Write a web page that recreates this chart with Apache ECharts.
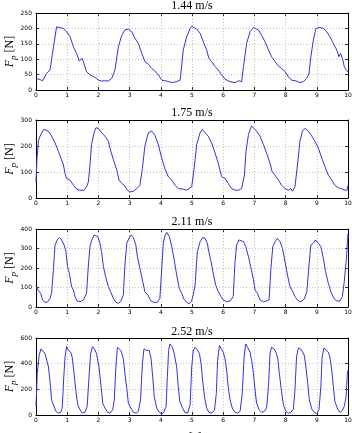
<!DOCTYPE html>
<html>
<head>
<meta charset="utf-8">
<script src="https://cdn.jsdelivr.net/npm/echarts@6/dist/echarts.min.js"></script>
<style>
  html, body { margin: 0; padding: 0; background: #fff; }
  #chart { width: 352px; height: 433px; }
</style>
</head>
<body>
<div id="chart"></div>
<script>
// speeds shown as panel titles
const speeds = ['1.44 m/s', '1.75 m/s', '2.11 m/s', '2.52 m/s'];
const yMax = [250, 300, 400, 600];
const yStep = [50, 100, 100, 200];
const xTicks = [0, 1, 2, 3, 4, 5, 6, 7, 8, 9, 10];

// [t (s), Fp (N)]
const force144 = [
  [0, 36], [0.1, 35], [0.21, 30], [0.34, 54], [0.45, 65], [0.56, 140], [0.66, 205], [0.69, 208],
  [0.88, 200], [0.98, 189], [1.09, 173], [1.2, 140], [1.3, 119], [1.39, 94], [1.48, 103], [1.55, 81],
  [1.62, 60], [1.73, 49], [1.89, 41], [2.0, 32], [2.1, 29], [2.2, 30], [2.32, 29], [2.43, 38],
  [2.53, 65], [2.64, 140], [2.75, 178], [2.85, 195], [2.96, 198], [3.07, 189], [3.17, 168], [3.28, 151],
  [3.39, 119], [3.49, 92], [3.6, 84], [3.71, 70], [3.81, 62], [3.92, 49], [4.03, 32], [4.19, 29],
  [4.35, 24], [4.4, 19], [4.51, 27], [4.62, 32], [4.72, 130], [4.83, 173], [4.94, 200], [4.99, 207],
  [5.15, 198], [5.26, 184], [5.36, 157], [5.47, 130], [5.54, 103], [5.63, 92], [5.74, 76], [5.84, 65],
  [5.95, 49], [6.06, 35], [6.22, 27], [6.38, 24], [6.49, 30], [6.59, 27], [6.65, 76], [6.75, 151],
  [6.86, 189], [6.97, 203], [7.13, 195], [7.23, 178], [7.34, 157], [7.45, 130], [7.55, 108], [7.66, 92],
  [7.77, 78], [7.87, 70], [7.98, 60], [8.09, 43], [8.19, 32], [8.35, 29], [8.46, 24], [8.57, 27],
  [8.68, 38], [8.75, 54], [8.81, 108], [8.89, 162], [8.97, 200], [9.1, 203], [9.21, 200], [9.32, 189],
  [9.42, 173], [9.53, 151], [9.64, 130], [9.71, 108], [9.76, 119], [9.82, 103], [9.88, 76], [9.95, 63],
  [10, 60]
];

const force175 = [
  [0, 60], [0.03, 150], [0.08, 220], [0.13, 238], [0.24, 264], [0.29, 266], [0.4, 257], [0.5, 238],
  [0.61, 212], [0.72, 179], [0.82, 147], [0.88, 127], [0.93, 95], [0.98, 75], [1.09, 69], [1.2, 49],
  [1.3, 34], [1.41, 30], [1.46, 36], [1.54, 30], [1.62, 43], [1.68, 62], [1.73, 127], [1.78, 205],
  [1.86, 251], [1.92, 270], [2.0, 268], [2.1, 251], [2.21, 238], [2.32, 218], [2.37, 192], [2.48, 147],
  [2.59, 108], [2.66, 69], [2.75, 56], [2.83, 49], [2.93, 30], [3.01, 23], [3.12, 26], [3.23, 36],
  [3.33, 49], [3.41, 114], [3.49, 199], [3.6, 251], [3.71, 257], [3.81, 242], [3.92, 205], [4.03, 153],
  [4.13, 114], [4.24, 82], [4.35, 69], [4.46, 49], [4.56, 36], [4.72, 34], [4.83, 30], [4.88, 26],
  [4.99, 43], [5.07, 114], [5.15, 205], [5.26, 251], [5.33, 264], [5.42, 251], [5.52, 238], [5.63, 212],
  [5.74, 173], [5.84, 134], [5.95, 82], [6.06, 75], [6.16, 56], [6.27, 36], [6.38, 30], [6.49, 30],
  [6.59, 36], [6.68, 88], [6.73, 179], [6.81, 244], [6.91, 277], [6.97, 280], [7.07, 257], [7.18, 238],
  [7.29, 205], [7.39, 173], [7.5, 134], [7.57, 101], [7.66, 88], [7.77, 69], [7.87, 49], [7.98, 36],
  [8.09, 30], [8.17, 36], [8.22, 26], [8.3, 43], [8.38, 127], [8.46, 218], [8.54, 257], [8.62, 268],
  [8.73, 257], [8.84, 238], [8.94, 218], [9.05, 192], [9.16, 153], [9.26, 121], [9.37, 88], [9.48, 69],
  [9.58, 49], [9.69, 39], [9.79, 36], [9.9, 30], [9.97, 30], [10, 49]
];

const force211 = [
  [0, 104], [0.07, 87], [0.15, 70], [0.21, 36], [0.29, 24], [0.36, 24], [0.45, 44], [0.5, 70],
  [0.56, 198], [0.61, 318], [0.68, 344], [0.75, 356], [0.82, 344], [0.9, 318], [0.96, 284], [1.01, 207],
  [1.07, 173], [1.14, 104], [1.2, 87], [1.25, 53], [1.32, 31], [1.41, 27], [1.52, 36], [1.62, 70],
  [1.68, 215], [1.73, 310], [1.78, 339], [1.86, 369], [1.91, 378], [1.98, 361], [2.05, 327], [2.1, 284],
  [2.16, 207], [2.23, 156], [2.32, 104], [2.39, 79], [2.48, 44], [2.56, 24], [2.64, 19], [2.71, 27],
  [2.8, 62], [2.85, 215], [2.91, 327], [2.98, 352], [3.04, 369], [3.12, 356], [3.2, 318], [3.25, 258],
  [3.33, 198], [3.42, 130], [3.49, 79], [3.6, 58], [3.68, 31], [3.78, 24], [3.89, 24], [3.97, 44],
  [4.03, 198], [4.08, 327], [4.14, 369], [4.19, 383], [4.27, 361], [4.34, 318], [4.42, 250], [4.51, 164],
  [4.59, 96], [4.67, 70], [4.74, 41], [4.83, 24], [4.91, 17], [4.98, 27], [5.04, 62], [5.1, 113],
  [5.17, 284], [5.26, 335], [5.34, 356], [5.42, 352], [5.49, 327], [5.54, 284], [5.61, 233], [5.68, 173],
  [5.76, 113], [5.84, 79], [5.93, 53], [6.0, 36], [6.11, 27], [6.22, 31], [6.32, 53], [6.38, 233],
  [6.43, 318], [6.51, 344], [6.57, 352], [6.65, 335], [6.72, 310], [6.81, 258], [6.88, 207], [6.97, 139],
  [7.02, 87], [7.1, 70], [7.18, 36], [7.29, 27], [7.39, 31], [7.47, 36], [7.53, 198], [7.59, 310],
  [7.66, 335], [7.74, 352], [7.82, 335], [7.9, 301], [7.98, 233], [8.06, 164], [8.14, 104], [8.22, 82],
  [8.3, 53], [8.41, 31], [8.49, 27], [8.6, 41], [8.68, 79], [8.75, 215], [8.81, 318], [8.89, 327],
  [8.96, 344], [9.05, 327], [9.13, 310], [9.21, 250], [9.28, 181], [9.37, 121], [9.45, 79], [9.55, 44],
  [9.64, 31], [9.74, 31], [9.82, 53], [9.88, 130], [9.95, 250], [10, 378]
];

const force252 = [
  [0, 67], [0.04, 323], [0.1, 464], [0.16, 515], [0.21, 503], [0.29, 477], [0.34, 464], [0.4, 374],
  [0.45, 259], [0.5, 118], [0.56, 79], [0.64, 28], [0.72, 15], [0.79, 21], [0.84, 54], [0.89, 297],
  [0.93, 451], [0.98, 533], [1.04, 503], [1.11, 490], [1.16, 451], [1.22, 323], [1.28, 182], [1.34, 79],
  [1.41, 41], [1.48, 15], [1.57, 21], [1.64, 67], [1.7, 297], [1.75, 477], [1.81, 533], [1.89, 508],
  [1.94, 477], [2.02, 374], [2.08, 233], [2.14, 92], [2.21, 54], [2.29, 21], [2.37, 15], [2.46, 41],
  [2.51, 118], [2.56, 374], [2.61, 528], [2.67, 515], [2.72, 503], [2.8, 438], [2.85, 323], [2.91, 208],
  [2.96, 92], [3.04, 54], [3.12, 21], [3.21, 15], [3.28, 28], [3.35, 118], [3.41, 400], [3.46, 515],
  [3.55, 503], [3.63, 503], [3.69, 438], [3.74, 297], [3.79, 144], [3.87, 54], [3.95, 21], [4.03, 10],
  [4.1, 21], [4.17, 67], [4.21, 297], [4.25, 503], [4.29, 554], [4.37, 528], [4.43, 477], [4.51, 374],
  [4.56, 220], [4.61, 105], [4.7, 54], [4.77, 21], [4.86, 15], [4.94, 79], [4.99, 374], [5.04, 503],
  [5.1, 528], [5.17, 508], [5.24, 477], [5.29, 400], [5.34, 272], [5.4, 144], [5.47, 54], [5.54, 21],
  [5.63, 15], [5.72, 36], [5.78, 169], [5.82, 426], [5.88, 541], [5.93, 554], [6.0, 490], [6.06, 438],
  [6.11, 349], [6.16, 220], [6.22, 118], [6.29, 54], [6.38, 21], [6.46, 15], [6.54, 28], [6.61, 169],
  [6.67, 451], [6.72, 554], [6.78, 528], [6.86, 490], [6.91, 426], [6.97, 323], [7.02, 195], [7.07, 92],
  [7.15, 41], [7.23, 21], [7.32, 28], [7.39, 54], [7.45, 220], [7.5, 477], [7.55, 528], [7.63, 515],
  [7.69, 490], [7.75, 438], [7.8, 323], [7.87, 182], [7.93, 79], [8.01, 28], [8.09, 15], [8.17, 21],
  [8.25, 46], [8.3, 195], [8.35, 451], [8.41, 523], [8.48, 515], [8.55, 490], [8.6, 464], [8.65, 374],
  [8.71, 246], [8.76, 118], [8.84, 46], [8.92, 21], [9.0, 10], [9.07, 41], [9.13, 220], [9.17, 451],
  [9.23, 523], [9.29, 515], [9.37, 490], [9.42, 451], [9.48, 349], [9.53, 220], [9.58, 105], [9.67, 46],
  [9.74, 21], [9.82, 36], [9.88, 67], [9.94, 144], [9.98, 323], [10, 349]
];

const allForces = [force144, force175, force211, force252];

const chart = echarts.init(document.getElementById('chart'), null, { renderer: 'canvas' });

const gridTops = [13, 120, 229, 338];
const gridHeights = [77, 78, 78, 77];
const titleTops = [0, 107, 216, 326];
const serif = '"Liberation Serif", "DejaVu Serif", serif';
const sans = '"DejaVu Sans", sans-serif';
const lineColor = '#3333dd';

const tickStyle = { show: true, inside: true, length: 3, lineStyle: { color: '#000', width: 0.8 } };
const frameLine = { show: true, onZero: false, lineStyle: { color: '#000', width: 1 } };
const dotted = { show: true, lineStyle: { color: '#b5b5b5', type: [1, 2], width: 0.8 } };

const grids = [], titles = [], xAxes = [], yAxes = [], series = [];

allForces.forEach((data, i) => {
  grids.push({ left: 36, right: 4, top: gridTops[i], height: gridHeights[i], outerBoundsMode: 'none', containLabel: false });
  titles.push({
    text: speeds[i], left: 192, top: titleTops[i], textAlign: 'center', padding: 0,
    textStyle: { fontFamily: serif, fontSize: 12, fontWeight: 'normal', color: '#000' }
  });
  const isLast = i === allForces.length - 1;
  xAxes.push({
    type: 'value', gridIndex: i, min: 0, max: 10, interval: 1,
    axisLine: frameLine, axisTick: tickStyle, splitLine: dotted,
    axisLabel: { fontFamily: sans, fontSize: 6, color: '#000', margin: 2, formatter: v => xTicks.includes(v) ? String(v) : '' },
    name: isLast ? '{i|t} [s]' : '',
    nameLocation: 'middle', nameGap: 17, nameMoveOverlap: false,
    nameTextStyle: { fontFamily: serif, fontSize: 12, color: '#000', rich: { i: { fontFamily: serif, fontStyle: 'italic', fontSize: 12 } } }
  });
  yAxes.push({
    type: 'value', gridIndex: i, min: 0, max: yMax[i], interval: yStep[i],
    axisLine: frameLine, axisTick: tickStyle, splitLine: dotted,
    axisLabel: { fontFamily: sans, fontSize: 6, color: '#000', margin: 4 },
    name: '{f|F}{p|p} [N]', nameLocation: 'middle', nameRotate: 90, nameGap: 18, nameMoveOverlap: false,
    nameTextStyle: {
      fontFamily: serif, fontSize: 12, color: '#000', lineHeight: 16,
      rich: {
        f: { fontFamily: serif, fontStyle: 'italic', fontSize: 12, lineHeight: 16 },
        p: { fontFamily: serif, fontStyle: 'italic', fontSize: 9, lineHeight: 9, verticalAlign: 'bottom' }
      }
    }
  });
  series.push({
    type: 'line', xAxisIndex: i, yAxisIndex: i, data: data,
    symbol: 'none', lineStyle: { color: lineColor, width: 1 }, silent: true
  });
});

// mirrored axes for the top and right frame with inward ticks
allForces.forEach((d, i) => {
  xAxes.push({
    type: 'value', gridIndex: i, position: 'top', min: 0, max: 10, interval: 1,
    axisLine: frameLine, axisTick: tickStyle, axisLabel: { show: false }, splitLine: { show: false }
  });
  yAxes.push({
    type: 'value', gridIndex: i, position: 'right', min: 0, max: yMax[i], interval: yStep[i],
    axisLine: frameLine, axisTick: tickStyle, axisLabel: { show: false }, splitLine: { show: false }
  });
});

chart.setOption({
  animation: false,
  backgroundColor: '#fff',
  title: titles,
  grid: grids,
  xAxis: xAxes,
  yAxis: yAxes,
  series: series
});
</script>
</body>
</html>
